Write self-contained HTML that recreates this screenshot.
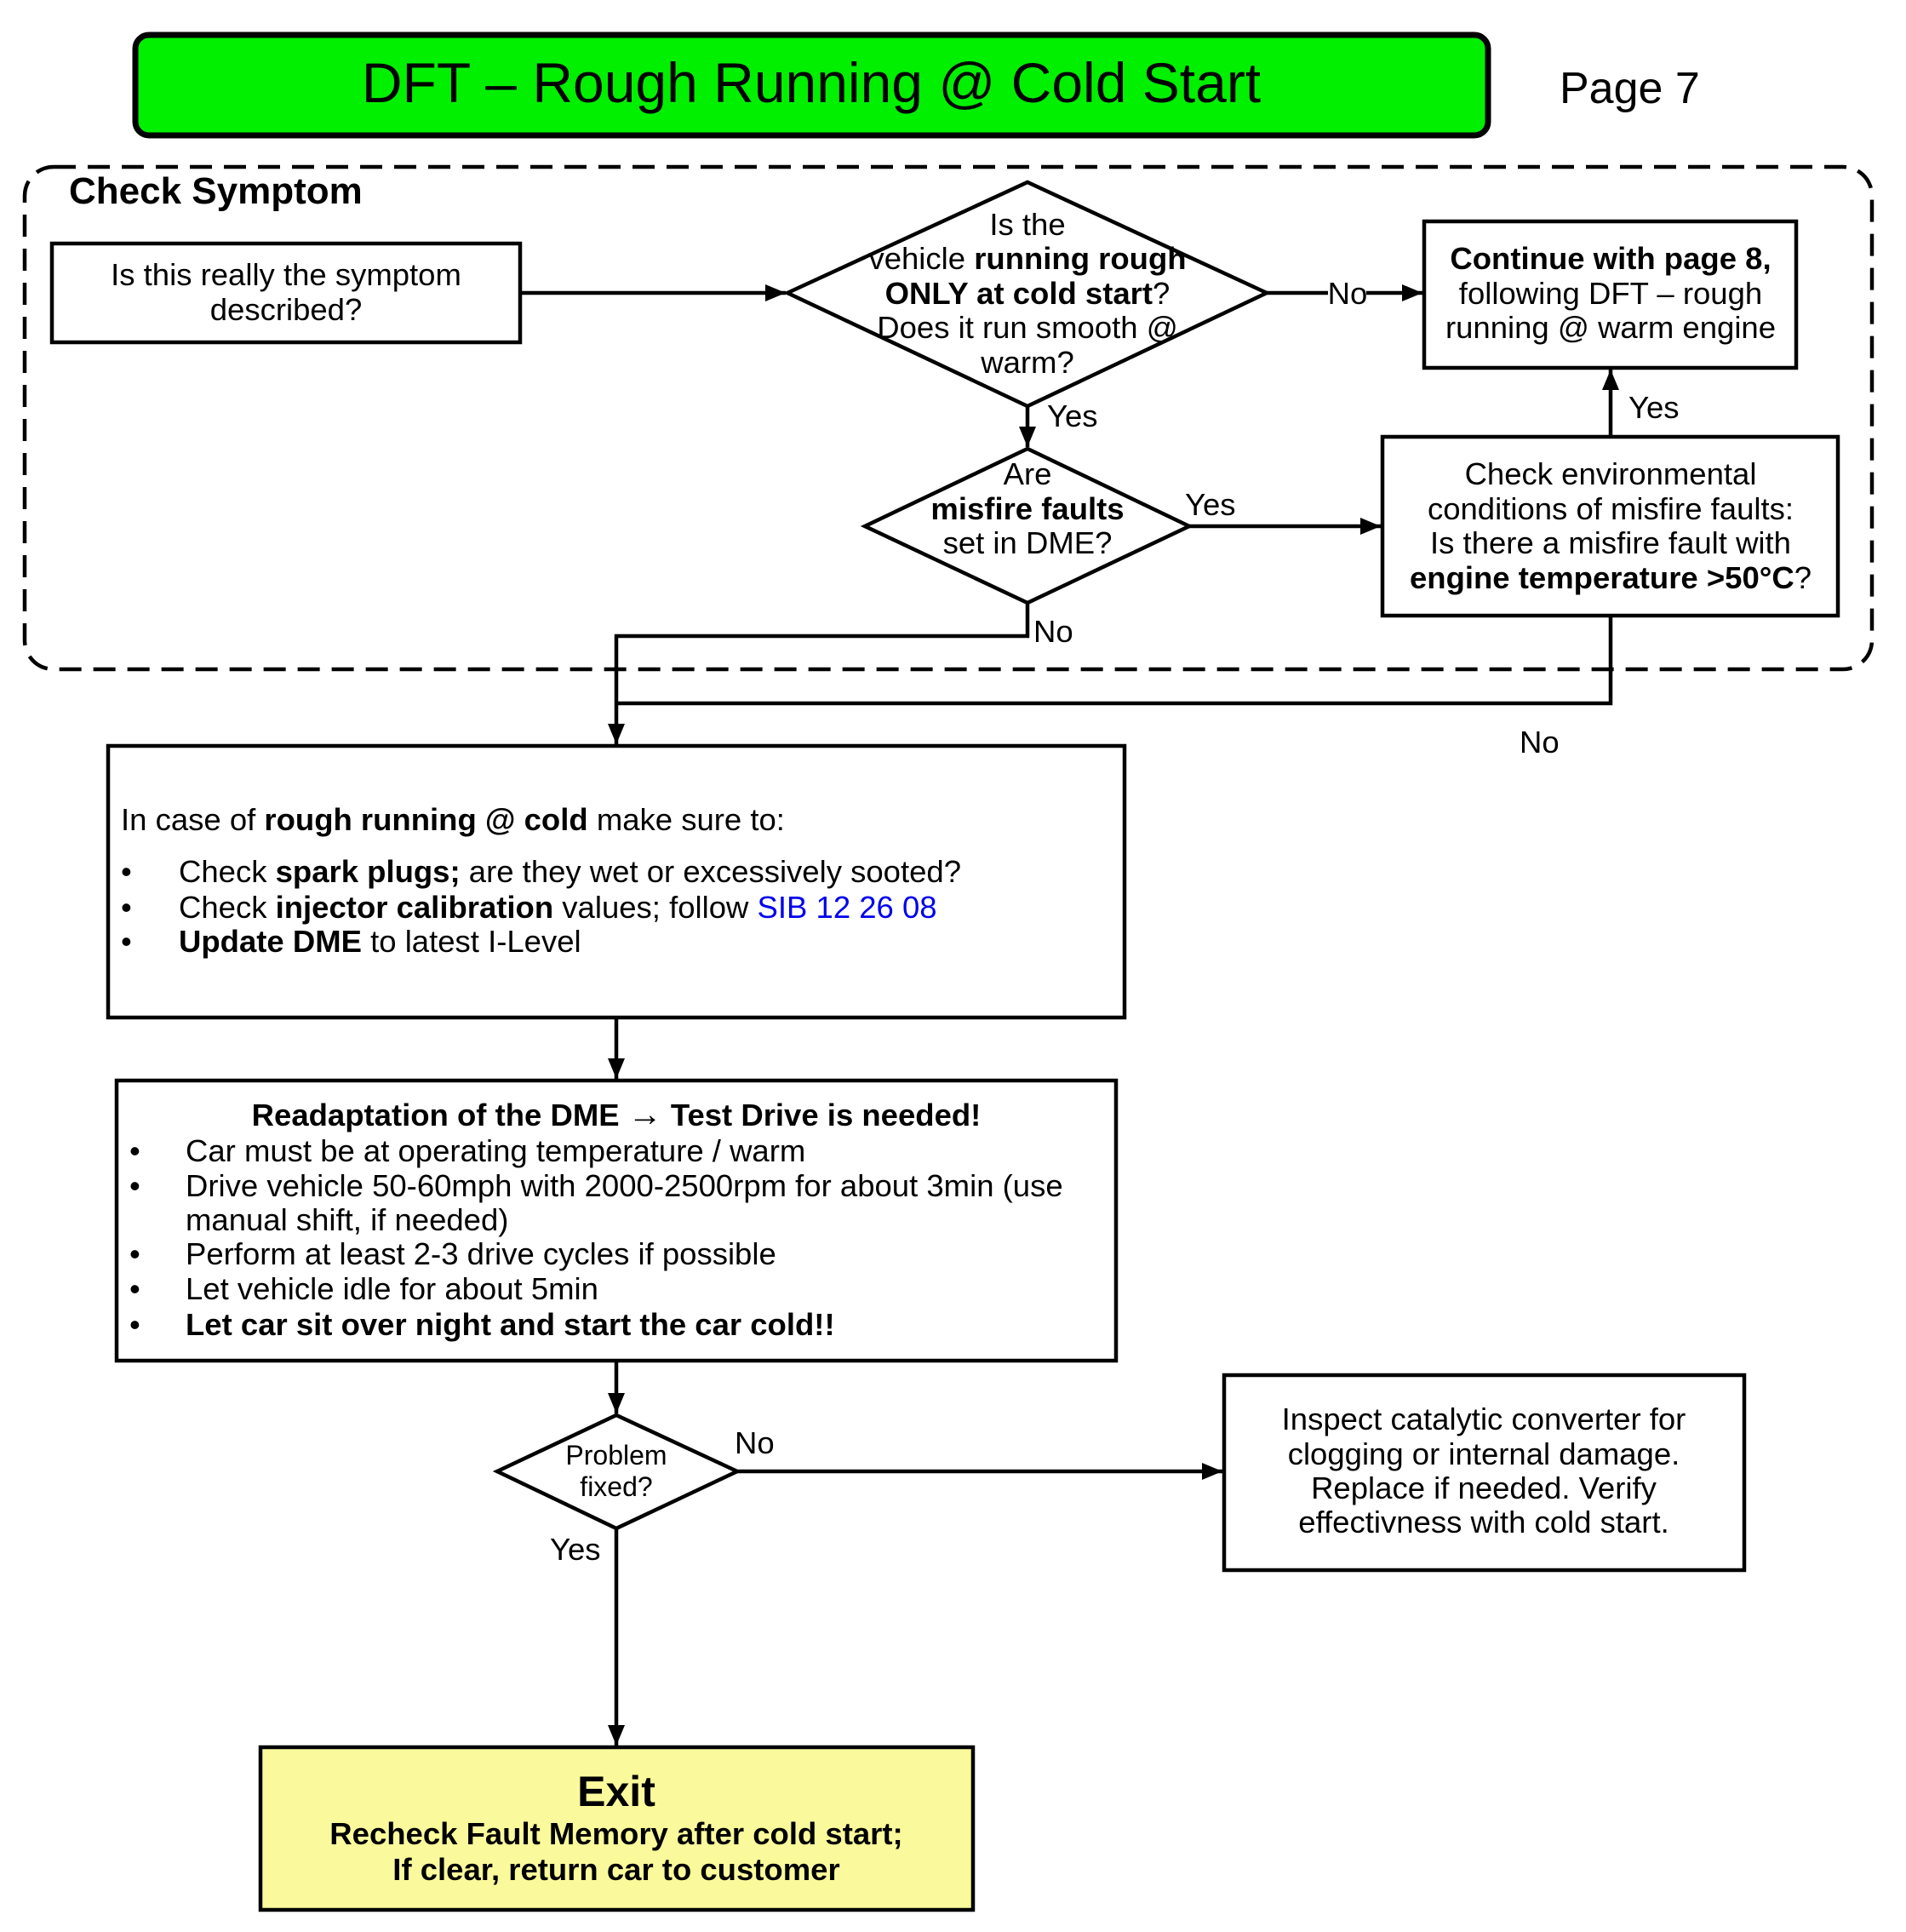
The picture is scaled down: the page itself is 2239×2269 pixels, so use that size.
<!DOCTYPE html>
<html><head><meta charset="utf-8"><style>
html,body{margin:0;padding:0;background:#fff}
svg{display:block}
text{font-family:"Liberation Sans",Arial,sans-serif;fill:#000}
.t{font-size:36.5px}
.c{text-anchor:middle}
.b{font-weight:bold}
</style></head><body>
<svg width="2239" height="2269" viewBox="0 0 2239 2269" xmlns="http://www.w3.org/2000/svg">
<defs>
<marker id="a" markerWidth="24" markerHeight="20" refX="10" refY="5" orient="auto" markerUnits="userSpaceOnUse" viewBox="0 0 10 10" preserveAspectRatio="none">
<path d="M0,0 L10,5 L0,10 z" fill="#000"/></marker>
</defs>
<rect x="159" y="41" width="1589" height="118" rx="16" fill="#00f000" stroke="#000" stroke-width="7"/>
<text x="953" y="120" class="c" style="font-size:66px">DFT – Rough Running @ Cold Start</text>
<text x="1832" y="121" style="font-size:52px">Page 7</text>

<rect x="29" y="196" width="2170" height="590" rx="34" fill="none" stroke="#000" stroke-width="4.5" stroke-dasharray="26,14"/>
<text x="81" y="239" class="b" style="font-size:44px">Check Symptom</text>

<g stroke="#000" stroke-width="4.5" fill="none">
<rect x="61" y="286" width="550" height="116" fill="#fff"/>
<polygon points="925,344 1207,214 1488,344 1207,477" fill="#fff"/>
<rect x="1673" y="260" width="437" height="172" fill="#fff"/>
<polygon points="1016,618 1207,527 1397,618 1207,708" fill="#fff"/>
<rect x="1624" y="513" width="535" height="210" fill="#fff"/>
<rect x="127" y="876" width="1194" height="319" fill="#fff"/>
<rect x="137" y="1269" width="1174" height="329" fill="#fff"/>
<polygon points="584,1728 724,1662 866,1728 724,1795" fill="#fff"/>
<rect x="1438" y="1615" width="611" height="229" fill="#fff"/>
<rect x="306" y="2052" width="837" height="191" fill="#fafa9c"/>

<line x1="611" y1="344" x2="923" y2="344" marker-end="url(#a)"/>
<line x1="1488" y1="344" x2="1560" y2="344"/>
<line x1="1605" y1="344" x2="1671" y2="344" marker-end="url(#a)"/>
<line x1="1207" y1="477" x2="1207" y2="525" marker-end="url(#a)"/>
<line x1="1397" y1="618" x2="1622" y2="618" marker-end="url(#a)"/>
<line x1="1892" y1="513" x2="1892" y2="434" marker-end="url(#a)"/>
<polyline points="1207,708 1207,747 724,747 724,874" marker-end="url(#a)"/>
<polyline points="1892,723 1892,826 724,826"/>
<line x1="724" y1="1195" x2="724" y2="1267" marker-end="url(#a)"/>
<line x1="724" y1="1598" x2="724" y2="1660" marker-end="url(#a)"/>
<line x1="866" y1="1728" x2="1436" y2="1728" marker-end="url(#a)"/>
<line x1="724" y1="1795" x2="724" y2="2050" marker-end="url(#a)"/>
</g>

<text class="t c" x="336" y="335">Is this really the symptom</text>
<text class="t c" x="336" y="376">described?</text>
<text class="t c" x="1207" y="276">Is the</text>
<text class="t c" x="1207" y="316">vehicle <tspan class="b">running rough</tspan></text>
<text class="t c" x="1207" y="357"><tspan class="b">ONLY at cold start</tspan>?</text>
<text class="t c" x="1207" y="397">Does it run smooth @</text>
<text class="t c" x="1207" y="438">warm?</text>
<rect x="1560" y="322" width="45" height="40" fill="#fff"/>
<text class="t c" x="1583" y="357">No</text>
<text class="t c" x="1892" y="316"><tspan class="b">Continue with page 8,</tspan></text>
<text class="t c" x="1892" y="357">following DFT – rough</text>
<text class="t c" x="1892" y="397">running @ warm engine</text>
<text class="t" x="1230" y="501">Yes</text>
<text class="t" x="1913" y="491">Yes</text>
<text class="t c" x="1207" y="569">Are</text>
<text class="t c b" x="1207" y="610">misfire faults</text>
<text class="t c" x="1207" y="650">set in DME?</text>
<text class="t" x="1392" y="605">Yes</text>
<text class="t c" x="1892" y="569">Check environmental</text>
<text class="t c" x="1892" y="610">conditions of misfire faults:</text>
<text class="t c" x="1892" y="650">Is there a misfire fault with</text>
<text class="t c" x="1892" y="691"><tspan class="b">engine temperature &gt;50°C</tspan>?</text>
<text class="t" x="1214" y="754">No</text>
<text class="t" x="1785" y="884">No</text>
<text class="t" x="142" y="975">In case of <tspan class="b">rough running @ cold</tspan> make sure to:</text>
<text class="t" x="142" y="1036">•</text><text class="t" x="210" y="1036">Check <tspan class="b">spark plugs;</tspan> are they wet or excessively sooted?</text>
<text class="t" x="142" y="1078">•</text><text class="t" x="210" y="1078">Check <tspan class="b">injector calibration</tspan> values; follow <tspan style="fill:#0000ee">SIB 12 26 08</tspan></text>
<text class="t" x="142" y="1118">•</text><text class="t" x="210" y="1118"><tspan class="b">Update DME</tspan> to latest I-Level</text>
<text class="t c b" x="724" y="1322">Readaptation of the DME <tspan style="font-size:40px">→</tspan> Test Drive is needed!</text>
<text class="t" x="152" y="1364">•</text><text class="t" x="218" y="1364">Car must be at operating temperature / warm</text>
<text class="t" x="152" y="1405">•</text><text class="t" x="218" y="1405">Drive vehicle 50-60mph with 2000-2500rpm for about 3min (use</text>
<text class="t" x="218" y="1445">manual shift, if needed)</text>
<text class="t" x="152" y="1485">•</text><text class="t" x="218" y="1485">Perform at least 2-3 drive cycles if possible</text>
<text class="t" x="152" y="1526">•</text><text class="t" x="218" y="1526">Let vehicle idle for about 5min</text>
<text class="t" x="152" y="1568">•</text><text class="t b" x="218" y="1568">Let car sit over night and start the car cold!!</text>
<text class="c" x="724" y="1720" style="font-size:32px">Problem</text>
<text class="c" x="724" y="1757" style="font-size:32px">fixed?</text>
<text class="t" x="863" y="1707">No</text>
<text class="t" x="646" y="1832">Yes</text>
<text class="t c" x="1743" y="1679">Inspect catalytic converter for</text>
<text class="t c" x="1743" y="1720">clogging or internal damage.</text>
<text class="t c" x="1743" y="1760">Replace if needed. Verify</text>
<text class="t c" x="1743" y="1800">effectivness with cold start.</text>
<text class="c b" x="724" y="2121" style="font-size:50px">Exit</text>
<text class="t c b" x="724" y="2166">Recheck Fault Memory after cold start;</text>
<text class="t c b" x="724" y="2208">If clear, return car to customer</text>
</svg>
</body></html>
